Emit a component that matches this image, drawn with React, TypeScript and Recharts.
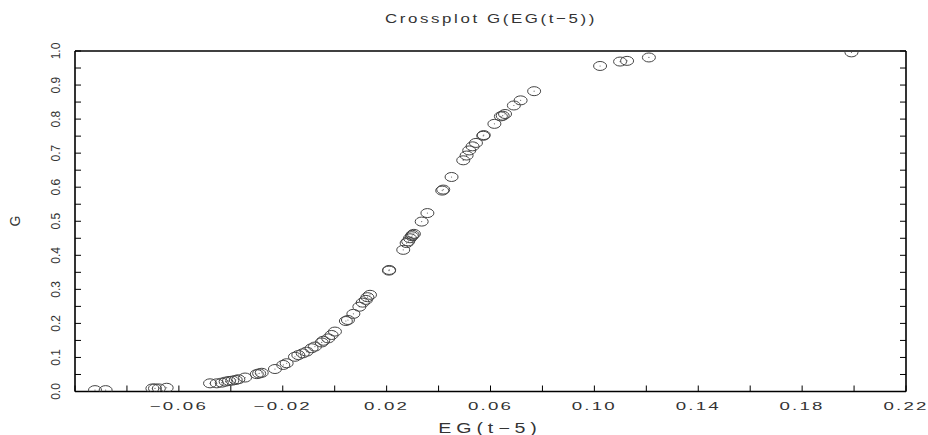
import React from 'react';
import { ScatterChart, Scatter, XAxis, YAxis } from 'recharts';

const egValues = [
  -0.0923, -0.0882, -0.0702, -0.0692, -0.0677, -0.0647,
  -0.048, -0.0454, -0.0435, -0.042, -0.0407, -0.0394, -0.0381, -0.0371, -0.0345,
  -0.03, -0.0291, -0.0281, -0.023, -0.0198, -0.0185, -0.0153, -0.014, -0.0123,
  -0.0108, -0.0089, -0.0076, -0.005, -0.0044, -0.0025, -0.0012, 0.0001,
  0.0043, 0.0051, 0.0072, 0.0095, 0.0108, 0.012, 0.0126, 0.0136,
  0.0209, 0.021, 0.0264, 0.0277, 0.0283, 0.029, 0.0297, 0.03, 0.0305,
  0.0335, 0.0357, 0.0414, 0.0418, 0.045, 0.0495, 0.0508, 0.0518, 0.0531,
  0.0544, 0.0572, 0.0574, 0.0615, 0.064, 0.0647, 0.0656, 0.069, 0.0716, 0.0768,
  0.1022, 0.1099, 0.1126, 0.121, 0.199,
];
const gValues = [
  0.004, 0.004, 0.009, 0.009, 0.009, 0.011,
  0.024, 0.024, 0.026, 0.029, 0.031, 0.032, 0.034, 0.036, 0.041,
  0.051, 0.053, 0.055, 0.066, 0.078, 0.083, 0.102, 0.107, 0.112,
  0.117, 0.127, 0.132, 0.144, 0.149, 0.156, 0.166, 0.176,
  0.207, 0.21, 0.228, 0.249, 0.261, 0.269, 0.277, 0.284,
  0.355, 0.357, 0.416, 0.436, 0.441, 0.45, 0.456, 0.46, 0.463,
  0.499, 0.524, 0.59, 0.593, 0.63, 0.679, 0.693, 0.708, 0.72,
  0.73, 0.751, 0.753, 0.786, 0.808, 0.81, 0.815, 0.84, 0.855, 0.882,
  0.956, 0.969, 0.971, 0.981, 0.996,
];

const xTickValues = [-0.1, -0.08, -0.06, -0.04, -0.02, 0, 0.02, 0.04, 0.06, 0.08, 0.1, 0.12, 0.14, 0.16, 0.18, 0.2, 0.22];
const xTickLabels = ['', '', '\u22120.06', '', '\u22120.02', '', '0.02', '', '0.06', '', '0.10', '', '0.14', '', '0.18', '', '0.22'];
const yTickValues = [0, 0.05, 0.1, 0.15, 0.2, 0.25, 0.3, 0.35, 0.4, 0.45, 0.5, 0.55, 0.6, 0.65, 0.7, 0.75, 0.8, 0.85, 0.9, 0.95, 1.0];
const yTickLabels = ['0.0', '', '0.1', '', '0.2', '', '0.3', '', '0.4', '', '0.5', '', '0.6', '', '0.7', '', '0.8', '', '0.9', '', '1.0'];

const titleText = 'Crossplot G(EG(t\u22125))';
const xAxisTitle = 'EG(t\u22125)';
const yAxisTitle = 'G';

const points = egValues.map((x, i) => ({ x, y: gValues[i] }));

const FONT = '"Liberation Sans", Arial, sans-serif';
const TXT = '#333';

const XTick = (props: any) => {
  const { x, y, index } = props;
  const label = xTickLabels[index];
  if (!label) return <g />;
  return (
    <text
      transform={`translate(${x},${y + 16}) scale(1.7,1)`}
      textAnchor="middle"
      fontFamily={FONT}
      fontSize={11}
      letterSpacing={1.3}
      fill={TXT}
    >
      {label}
    </text>
  );
};

const YTick = (props: any) => {
  const { x, y, index } = props;
  const label = yTickLabels[index];
  if (!label) return <g />;
  return (
    <text
      transform={`translate(${x + 4.5},${y}) rotate(-90)`}
      textAnchor="middle"
      fontFamily={FONT}
      fontSize={12}
      fill={TXT}
    >
      {label}
    </text>
  );
};

const EmptyTick = () => <g />;

const Marker = (props: any) => {
  const { cx, cy } = props;
  if (cx == null || cy == null) return <g />;
  return (
    <g>
      <ellipse cx={cx} cy={cy} rx={6.5} ry={4.5} fill="none" stroke="#444" strokeWidth={1} />
      <circle cx={cx} cy={cy} r={0.6} fill="#666" />
    </g>
  );
};

const axisLine = { stroke: '#000', strokeWidth: 1.6 };
const tickLine = { stroke: '#000', strokeWidth: 1 };

export default function App() {
  return (
    <div style={{ position: 'absolute', left: 0, top: 0, width: 928, height: 435, background: '#fff' }}>
      <ScatterChart
        width={928}
        height={435}
        margin={{ top: 45, right: 16, bottom: 3.5, left: 35 }}
      >
        <XAxis
          xAxisId="b"
          dataKey="x"
          type="number"
          orientation="bottom"
          domain={[-0.1, 0.22]}
          ticks={xTickValues}
          interval={0}
          allowDataOverflow
          height={40}
          tickSize={-6}
          tickMargin={8}
          axisLine={axisLine}
          tickLine={tickLine}
          tick={<XTick />}
        />
        <XAxis
          xAxisId="t"
          type="number"
          orientation="top"
          domain={[-0.1, 0.22]}
          ticks={xTickValues}
          interval={0}
          allowDataOverflow
          height={6}
          tickSize={-6}
          axisLine={axisLine}
          tickLine={tickLine}
          tick={<EmptyTick />}
        />
        <YAxis
          yAxisId="l"
          dataKey="y"
          type="number"
          orientation="left"
          domain={[0, 1]}
          ticks={yTickValues}
          interval={0}
          allowDataOverflow
          width={40}
          tickSize={-6}
          tickMargin={26}
          axisLine={axisLine}
          tickLine={tickLine}
          tick={<YTick />}
        />
        <YAxis
          yAxisId="r"
          type="number"
          orientation="right"
          domain={[0, 1]}
          ticks={yTickValues}
          interval={0}
          allowDataOverflow
          width={6}
          tickSize={-6}
          axisLine={axisLine}
          tickLine={tickLine}
          tick={<EmptyTick />}
        />
        <Scatter
          xAxisId="b"
          yAxisId="l"
          data={points}
          shape={<Marker />}
          isAnimationActive={false}
        />
      </ScatterChart>
      <svg
        width={928}
        height={435}
        style={{ position: 'absolute', left: 0, top: 0, pointerEvents: 'none' }}
      >
        <text
          transform="translate(491,23) scale(1.3,1)"
          textAnchor="middle"
          fontFamily={FONT}
          fontSize={13}
          letterSpacing={2}
          fill={TXT}
        >
          {titleText}
        </text>
        <text
          transform="translate(490,433) scale(1.4,1)"
          textAnchor="middle"
          fontFamily={FONT}
          fontSize={14}
          letterSpacing={3.5}
          fill={TXT}
        >
          {xAxisTitle}
        </text>
        <text
          transform="translate(20,221) rotate(-90)"
          textAnchor="middle"
          fontFamily={FONT}
          fontSize={14}
          fill={TXT}
        >
          {yAxisTitle}
        </text>
      </svg>
    </div>
  );
}
